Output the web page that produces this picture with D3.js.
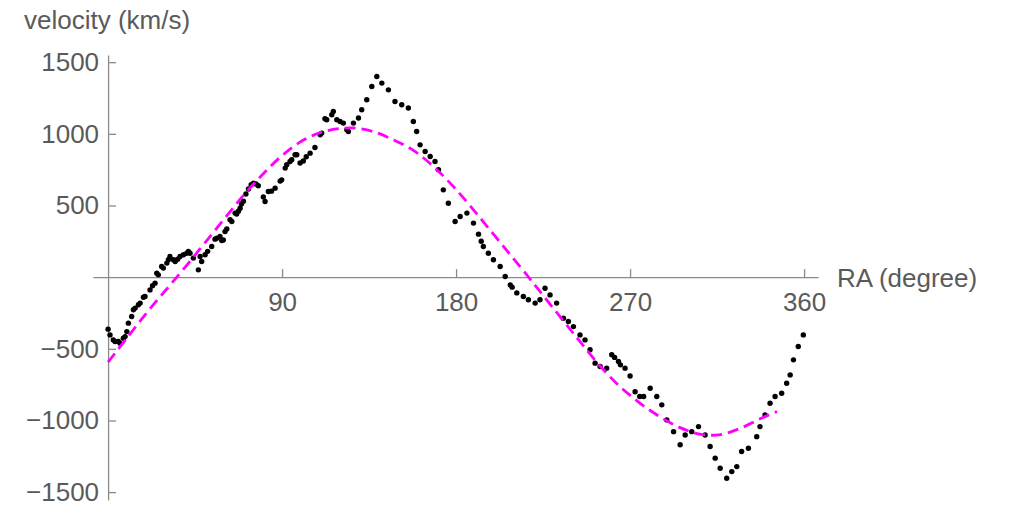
<!DOCTYPE html>
<html>
<head>
<meta charset="utf-8">
<script src="https://cdn.jsdelivr.net/npm/d3@7"></script>
<style>
  html, body { margin: 0; padding: 0; background: #fff; }
  svg { display: block; }
  text { font-family: "Liberation Sans", Arial, Helvetica, sans-serif; }
</style>
</head>
<body>
<svg id="chart" width="1013" height="508"></svg>
<script>
// ---- data ----
const dataRA = [0,1,2.7,3.6,5.3,6.2,7.9,8.8,9.7,10.5,12.2,13.1,14,15.7,16.6,18.3,19.1,21.7,23,24.3,25.2,26,27.7,28.6,30.4,31.2,32,33.8,34.7,36,37.2,39,40.7,41.5,42.4,44.1,46.7,47.6,48.4,50.2,51.5,53.6,55.3,56.2,57.9,58.8,59.6,60.5,61.4,63.1,64,65.7,66.5,67.4,68.3,69,70,71.3,72.6,74,75.2,76.5,77.7,80.3,81.2,82.9,84.5,86.4,89,89.8,91.6,92.4,94.1,95,96.7,97.6,99.3,101,102.5,104.5,107,109.7,110.5,112.2,113.1,115.7,116.5,118.3,120,121.7,123.5,124.3,126.9,129.5,131.2,133.8,136.4,139,141.6,145,148.4,151.9,155.3,157.9,159.6,161.4,164,166.6,169.1,170.9,173.4,176,179.5,182.1,185.6,189,191.6,193,194.1,196.7,199.3,202.8,205.4,208,209,211.4,214.8,217.4,220.9,223.4,226,228.6,232,235.5,238.1,240.7,244.1,246.7,249.3,251.9,254.5,257.9,260.5,262,264,265,267.4,270,272.6,275,277,280.4,283.8,286.4,289,292.5,295.9,298.5,301.9,305.4,308.8,311.4,314,316.6,320,322.6,325.2,327.7,331.2,335.5,337.2,339.8,342.4,345,348.4,351,352.8,354.5,357,359.6];
const dataVel = [-363,-403,-438,-449,-449,-461,-426,-415,-380,-321,-275,-228,-216,-193,-181,-140,-135,-89,-60,-42,28,16,74,63,98,121,144,121,109,125,144,156,167,179,167,133,51,144,109,156,180,214,265,272,284,255,260,318,336,400,388,447,440,460,481,510,530,580,615,645,656,650,638,560,528,598,600,621,670,679,761,784,807,819,854,854,796,810,840,865,905,993,1005,1105,1098,1133,1156,1098,1086,1075,1028,1016,1075,1110,1168,1238,1330,1400,1354,1307,1226,1203,1180,1086,1016,923,877,842,807,749,609,516,388,423,447,377,300,250,214,167,121,74,4,-54,-70,-110,-135,-158,-181,-158,-77,-124,-181,-286,-310,-345,-403,-438,-507,-600,-624,-635,-542,-560,-589,-612,-635,-690,-800,-833,-833,-775,-833,-891,-996,-1078,-1170,-1101,-1078,-1043,-1101,-1182,-1263,-1333,-1403,-1357,-1322,-1217,-1194,-1113,-1043,-961,-880,-833,-810,-740,-682,-577,-484,-403];

const fitRA  = [0,10,20,30,40,50,60,70,80,90,100,110,120,127,137,147.6,157.9,168.3,178.6,189,199.3,209,217.5,223.4,235.5,244.1,254.5,264.8,275.2,285.5,295.9,306,316,327,337,346];
const fitVel = [-593,-420,-248,-88,72,238,405,570,718,848,948,1010,1037,1041,1016,958,885,772,632,470,300,140,0,-100,-305,-450,-620,-764,-880,-975,-1050,-1095,-1100,-1055,-990,-938];

const xTicks = [90,180,270,360];
const xTickLabels = ["90","180","270","360"];
const yTicks = [-1500,-1000,-500,500,1000,1500];
const yTickLabels = ["\u22121500","\u22121000","\u2212500","500","1000","1500"];

const xTitle = "RA (degree)";
const yTitle = "velocity (km/s)";

// ---- drawing ----
const svg = d3.select("#chart");
const x = d3.scaleLinear().domain([-7.8, 367.2]).range([93, 818]);
const y = d3.scaleLinear().domain([-1555, 1550]).range([500, 55]);

const axisColor = "#8a8a8a";
const textColor = "#5a5a5a";
const fontSize = 26;

// x axis at velocity 0
const xAxis = d3.axisBottom(x)
  .tickValues(xTicks)
  .tickFormat((d, i) => xTickLabels[i])
  .tickSizeInner(-8).tickSizeOuter(0).tickPadding(15);
const gx = svg.append("g").attr("transform", `translate(0,${y(0)})`).call(xAxis);

// y axis at RA 0
const yAxis = d3.axisLeft(y)
  .tickValues(yTicks)
  .tickFormat((d, i) => yTickLabels[i])
  .tickSizeInner(-8).tickSizeOuter(0).tickPadding(9);
const gy = svg.append("g").attr("transform", `translate(${x(0)},0)`).call(yAxis);

[gx, gy].forEach(g => {
  g.select(".domain").attr("stroke", axisColor).attr("stroke-width", 1.3);
  g.selectAll(".tick line").attr("stroke", axisColor).attr("stroke-width", 1.3);
  g.selectAll(".tick text").attr("fill", textColor)
    .style("font-size", fontSize + "px")
    .style("font-family", '"Liberation Sans", Arial, sans-serif');
});

// axis titles
svg.append("text").attr("x", 24).attr("y", 29)
  .attr("fill", textColor).style("font-size", fontSize + "px").text(yTitle);
svg.append("text").attr("x", 837).attr("y", 287)
  .attr("fill", textColor).style("font-size", fontSize + "px").text(xTitle);

// data points
const pts = dataRA.map((d, i) => [d, dataVel[i]]);
svg.append("g").selectAll("circle").data(pts).join("circle")
  .attr("cx", d => x(d[0]))
  .attr("cy", d => y(d[1]))
  .attr("r", 2.7)
  .attr("fill", "#000");

// fitted curve (dashed magenta)
const fitPts = fitRA.map((d, i) => [d, fitVel[i]]);
const line = d3.line().x(d => x(d[0])).y(d => y(d[1])).curve(d3.curveCatmullRom.alpha(0.5));
svg.append("path").datum(fitPts)
  .attr("d", line)
  .attr("fill", "none")
  .attr("stroke", "#ff00ff")
  .attr("stroke-width", 2.8)
  .attr("stroke-dasharray", "11,6");
</script>
</body>
</html>
